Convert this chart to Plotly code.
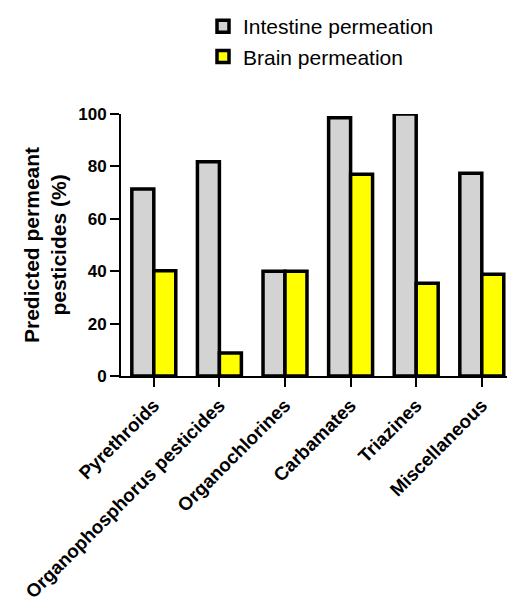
import plotly.graph_objects as go

categories = ["Pyrethroids", "Organophosphorus pesticides", "Organochlorines",
              "Carbamates", "Triazines", "Miscellaneous"]
intestine = [71.4, 81.8, 40.0, 98.6, 100.0, 77.4]
brain = [40.2, 8.8, 40.0, 77.0, 35.4, 38.8]
series_names = ["Intestine permeation", "Brain permeation"]
y_ticks = [0, 20, 40, 60, 80, 100]
y_title = "Predicted permeant<br>pesticides (%)"

W, H = 507, 604
L, R, T, B = 121, 0, 114, 228
px_per_cat = 65.6
plot_w = W - L - R
x0 = -0.5
x1 = x0 + plot_w / px_per_cat

font = "Liberation Sans, Arial, sans-serif"

fig = go.Figure()
fig.add_trace(go.Bar(x=categories, y=intestine, name=series_names[0],
                     marker=dict(color="#d3d3d3", line=dict(color="black", width=3.5))))
fig.add_trace(go.Bar(x=categories, y=brain, name=series_names[1],
                     marker=dict(color="#ffff00", line=dict(color="black", width=3.5))))

# short extension of the x axis line to the left of the y axis (Prism style)
fig.add_shape(type="line", xref="paper", yref="paper",
              x0=-9 / plot_w, x1=0, y0=0, y1=0,
              line=dict(color="black", width=2))

# y axis title as a rotated annotation
fig.add_annotation(text=y_title, textangle=-90, xref="paper", yref="paper",
                   x=(45 - L) / plot_w, y=0.5, xanchor="center", yanchor="middle",
                   showarrow=False,
                   font=dict(size=21, family=font, weight="bold", color="black"))

fig.update_layout(
    width=W, height=H,
    margin=dict(l=L, r=R, t=T, b=B, autoexpand=False),
    paper_bgcolor="white", plot_bgcolor="white",
    barmode="group", bargap=0.33, bargroupgap=0,
    font=dict(family=font, color="black"),
    showlegend=True,
    legend=dict(xref="container", yref="container", x=203 / W, y=1 - 6 / H,
                xanchor="left", yanchor="top", font=dict(size=21, family=font),
                bgcolor="rgba(0,0,0,0)", traceorder="normal", itemwidth=30,
                tracegroupgap=0),
    xaxis=dict(range=[x0, x1], showline=True, linecolor="black", linewidth=2,
               ticks="outside", ticklen=9, tickwidth=2, tickcolor="black",
               tickangle=-45, tickfont=dict(size=18.8, family=font, weight="bold"),
               showgrid=False, zeroline=False),
    yaxis=dict(range=[0, 100],
               showline=True, linecolor="black", linewidth=2,
               ticks="outside", ticklen=9, tickwidth=2, tickcolor="black",
               tickvals=y_ticks, tickfont=dict(size=17, family=font, weight="bold"),
               showgrid=False, zeroline=False),
)

fig.write_html("out.html", config={"displayModeBar": False},
               post_script="document.body.style.margin='0px';")
